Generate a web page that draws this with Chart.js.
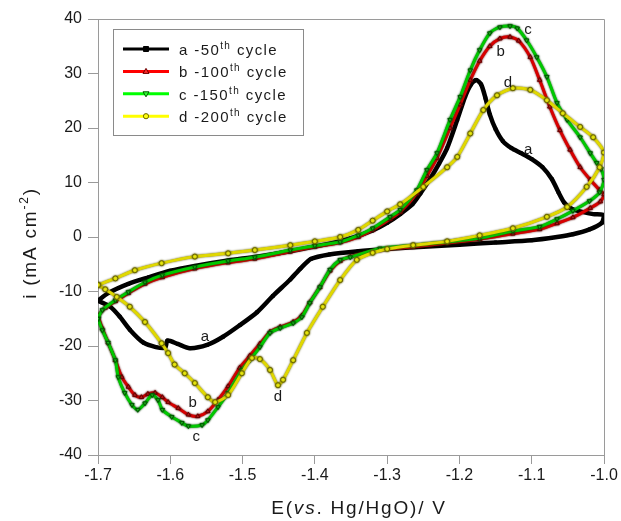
<!DOCTYPE html>
<html>
<head>
<meta charset="utf-8">
<script src="https://cdn.jsdelivr.net/npm/chart.js@4.4.1/dist/chart.umd.min.js"></script>
<style>
  html, body { margin: 0; padding: 0; background: #fff; }
</style>
</head>
<body>
<canvas id="cv" width="621" height="521"></canvas>
<script>
// tick labels
const xTicks = [-1.7, -1.6, -1.5, -1.4, -1.3, -1.2, -1.1, -1.0];
const yTicks = [-40, -30, -20, -10, 0, 10, 20, 30, 40];

// series names
const seriesLetters = ['a', 'b', 'c', 'd'];
const seriesCycles = ['-50', '-100', '-150', '-200'];

// a - 50th cycle (loop: anodic sweep to the right, then back)
const aE = [-1.700, -1.686, -1.658, -1.630, -1.600, -1.566, -1.520, -1.480, -1.434, -1.390, -1.350, -1.320, -1.300,
  -1.282, -1.265, -1.254, -1.240, -1.228, -1.217, -1.203, -1.192, -1.184, -1.177, -1.170, -1.164, -1.158, -1.150,
  -1.140, -1.128, -1.115, -1.100, -1.085, -1.072, -1.063, -1.055, -1.045, -1.030, -1.015, -1.000,
  -1.003, -1.020, -1.043, -1.065, -1.100, -1.150, -1.200, -1.250, -1.300, -1.340, -1.380, -1.405,
  -1.420, -1.434, -1.458, -1.480, -1.504, -1.527, -1.549, -1.573, -1.590, -1.604, -1.607, -1.620, -1.637,
  -1.656, -1.670, -1.683, -1.700];
const aI = [-11.7, -10.3, -8.6, -7.4, -6.2, -5.3, -4.3, -3.6, -2.6, -1.5, -0.2, 1.2, 2.6,
  4.2, 6.0, 8.0, 10.8, 13.5, 16.3, 21.5, 25.8, 28.0, 28.8, 28.0, 25.5, 22.5, 19.8,
  17.6, 16.3, 15.4, 14.3, 12.8, 10.6, 8.2, 6.3, 5.2, 4.6, 4.2, 4.0,
  2.6, 1.4, 0.5, 0.0, -0.6, -1.0, -1.4, -1.8, -2.2, -2.6, -3.2, -4.0,
  -5.8, -7.8, -10.8, -13.8, -16.2, -18.3, -19.8, -20.4, -19.6, -19.0, -20.3, -20.2, -19.4,
  -17.0, -14.6, -12.8, -11.7];

// b - 100th cycle
const bE = [-1.700, -1.690, -1.676, -1.658, -1.635, -1.611, -1.566, -1.520, -1.483, -1.434, -1.400, -1.365, -1.340,
  -1.320, -1.296, -1.282, -1.259, -1.245, -1.231, -1.213, -1.199, -1.185, -1.172, -1.158, -1.144, -1.130, -1.118,
  -1.102, -1.089, -1.075, -1.061, -1.047, -1.033, -1.019, -1.006, -1.000,
  -1.005, -1.019, -1.043, -1.065, -1.089, -1.126, -1.172, -1.217, -1.264, -1.310, -1.351, -1.365, -1.379,
  -1.393, -1.407, -1.418, -1.430, -1.448, -1.462, -1.476, -1.490, -1.504, -1.520, -1.534, -1.548, -1.562,
  -1.575, -1.589, -1.603, -1.611, -1.621, -1.631, -1.640, -1.649, -1.658, -1.667, -1.676, -1.686, -1.694, -1.700];
const bI = [-14.5, -13.0, -11.8, -10.3, -8.6, -7.4, -5.8, -4.7, -4.0, -2.7, -1.8, -1.0, 0.0,
  1.3, 3.3, 4.6, 8.0, 11.2, 14.5, 20.0, 24.3, 28.8, 32.3, 35.0, 36.4, 36.7, 36.0,
  33.0, 28.8, 23.9, 19.6, 16.0, 12.8, 10.5, 8.6, 7.8,
  6.5, 5.3, 3.6, 2.5, 1.4, 0.6, -0.4, -1.1, -1.8, -2.4, -3.6, -4.4, -6.2,
  -9.2, -12.0, -14.4, -15.6, -16.5, -17.4, -19.6, -21.8, -24.0, -27.4, -29.9, -32.0, -32.9,
  -32.6, -31.4, -30.3, -29.4, -28.6, -28.8, -29.4, -29.0, -27.5, -25.7, -22.6, -19.4, -16.8, -14.5];

// c - 150th cycle
const cE = [-1.700, -1.694, -1.676, -1.658, -1.635, -1.611, -1.566, -1.520, -1.483, -1.434, -1.400, -1.365, -1.340,
  -1.320, -1.296, -1.282, -1.259, -1.245, -1.231, -1.213, -1.199, -1.185, -1.172, -1.158, -1.144, -1.130, -1.120,
  -1.107, -1.093, -1.079, -1.065, -1.051, -1.033, -1.019, -1.010, -1.004, -1.000,
  -1.006, -1.020, -1.043, -1.065, -1.089, -1.126, -1.172, -1.217, -1.264, -1.310, -1.351, -1.365, -1.379,
  -1.393, -1.407, -1.418, -1.430, -1.448, -1.462, -1.476, -1.490, -1.501, -1.520, -1.534, -1.548, -1.556,
  -1.575, -1.584, -1.598, -1.611, -1.617, -1.625, -1.635, -1.645, -1.653, -1.663, -1.672, -1.676, -1.686, -1.694, -1.700];
const cI = [-15.0, -13.4, -11.6, -10.1, -8.3, -7.0, -5.5, -4.4, -3.7, -2.4, -1.6, -0.9, 0.3,
  1.6, 3.7, 5.0, 8.6, 12.3, 15.4, 21.5, 25.7, 30.6, 34.3, 37.4, 38.5, 38.7, 38.3,
  36.1, 33.0, 29.4, 24.6, 21.5, 18.3, 15.4, 13.6, 12.5, 10.5,
  8.2, 6.6, 4.8, 3.3, 1.9, 1.1, -0.2, -0.9, -1.5, -2.1, -3.7, -4.2, -6.0,
  -9.2, -12.1, -14.7, -15.8, -16.7, -17.6, -20.2, -22.6, -24.4, -28.6, -31.2, -33.6, -34.5,
  -34.7, -34.1, -33.0, -31.7, -29.9, -29.0, -30.5, -31.7, -30.8, -28.6, -25.7, -22.6, -19.4, -17.1, -15.0];

// d - 200th cycle
const dE = [-1.700, -1.676, -1.649, -1.612, -1.566, -1.520, -1.483, -1.434, -1.400, -1.365, -1.340, -1.320, -1.300,
  -1.282, -1.250, -1.217, -1.203, -1.185, -1.167, -1.148, -1.126, -1.102, -1.079, -1.057, -1.033, -1.015, -1.000,
  -1.006, -1.024, -1.051, -1.079, -1.126, -1.172, -1.217, -1.264, -1.300, -1.320, -1.342, -1.365, -1.389,
  -1.411, -1.430, -1.444, -1.451, -1.462, -1.476, -1.487, -1.501, -1.520, -1.538, -1.548, -1.566, -1.580,
  -1.594, -1.603, -1.612, -1.635, -1.656, -1.674, -1.690, -1.700];
const dI = [-8.8, -7.6, -6.1, -4.8, -3.6, -3.0, -2.4, -1.5, -0.8, 0.0, 1.3, 3.0, 4.7,
  6.0, 9.2, 12.8, 14.7, 19.0, 23.3, 26.0, 27.3, 27.0, 25.1, 22.7, 20.2, 18.3, 15.5,
  12.8, 9.2, 5.5, 3.7, 1.6, 0.3, -0.8, -1.5, -2.2, -2.9, -4.2, -7.9, -12.8,
  -17.6, -22.6, -26.2, -27.2, -24.4, -22.4, -22.2, -25.0, -29.0, -30.3, -29.4, -26.8, -25.0,
  -23.4, -21.3, -19.5, -15.6, -12.8, -11.0, -9.6, -8.8];

const FONT = '"Liberation Sans", Arial, sans-serif';

function toPoints(es, is) {
  return es.map((e, k) => ({ x: e, y: is[k] }));
}

const styles = [
  { line: '#000000', fill: '#000000', edge: '#000000', halo: null, shape: 'rect', rot: 0, width: 4.5 },
  { line: '#d80000', fill: '#ff2a2a', edge: '#6a0000', halo: '#5a0000', shape: 'triangle', rot: 0, width: 3 },
  { line: '#00c800', fill: '#30ff30', edge: '#005a00', halo: '#004a00', shape: 'triangle', rot: 180, width: 3 },
  { line: '#e0d800', fill: '#ffff10', edge: '#6a6600', halo: '#5e5a00', shape: 'circle', rot: 0, width: 3 }
];
const legendLine = ['#000000', '#ff0000', '#00ff00', '#ffff00'];

const seriesData = [toPoints(aE, aI), toPoints(bE, bI), toPoints(cE, cI), toPoints(dE, dI)];

const datasets = seriesData.map((pts, k) => ({
  label: seriesLetters[k] + ' ' + seriesCycles[k] + 'th cycle',
  data: pts,
  showLine: true,
  borderColor: styles[k].line,
  borderWidth: styles[k].width,
  pointStyle: styles[k].shape,
  pointRotation: styles[k].rot,
  pointRadius: k === 0 ? 2 : 2.5,
  pointBorderWidth: 1,
  pointBackgroundColor: styles[k].fill,
  pointBorderColor: styles[k].edge,
  tension: 0.25,
  order: 3 - k
}));

// letters placed next to the curves (data coordinates)
const tags = [
  { t: 'c', x: -1.105, y: 38 }, { t: 'b', x: -1.143, y: 34 }, { t: 'd', x: -1.133, y: 28.3 },
  { t: 'a', x: -1.105, y: 16 }, { t: 'a', x: -1.552, y: -18.3 }, { t: 'b', x: -1.569, y: -30.5 },
  { t: 'c', x: -1.564, y: -36.6 }, { t: 'd', x: -1.451, y: -29.3 }
];

function drawRich(ctx, x, y, parts, size, spacing, align) {
  const fontFor = p => (p.it ? 'italic ' : '') + (p.sup ? Math.round(size * 0.65) : size) + 'px ' + FONT;
  let total = 0;
  parts.forEach(p => {
    ctx.font = fontFor(p);
    for (const ch of p.t) total += ctx.measureText(ch).width + spacing;
  });
  let cx = align === 'center' ? x - total / 2 : x;
  parts.forEach(p => {
    ctx.font = fontFor(p);
    const dy = p.sup ? -size * 0.42 : 0;
    for (const ch of p.t) {
      ctx.fillText(ch, cx, y + dy);
      cx += ctx.measureText(ch).width + spacing;
    }
  });
}

function marker(ctx, k, x, y) {
  const s = styles[k];
  ctx.fillStyle = s.fill;
  ctx.strokeStyle = s.edge;
  ctx.lineWidth = 1;
  ctx.beginPath();
  if (s.shape === 'rect') {
    ctx.rect(x - 2.5, y - 2.5, 5, 5);
  } else if (s.shape === 'circle') {
    ctx.arc(x, y, 2.6, 0, Math.PI * 2);
  } else if (s.rot === 0) {
    ctx.moveTo(x, y - 3); ctx.lineTo(x + 3, y + 2); ctx.lineTo(x - 3, y + 2); ctx.closePath();
  } else {
    ctx.moveTo(x, y + 3); ctx.lineTo(x + 3, y - 2); ctx.lineTo(x - 3, y - 2); ctx.closePath();
  }
  ctx.fill();
  ctx.stroke();
}

// thin dark halo round the coloured curves, like the marker edges of the original
const halo = {
  id: 'halo',
  beforeDatasetDraw(chart, args) {
    const s = styles[args.index];
    chart.ctx.save();
    if (s.halo) {
      chart.ctx.shadowColor = s.halo;
      chart.ctx.shadowBlur = 2;
    }
  },
  afterDatasetDraw(chart) {
    chart.ctx.restore();
  }
};

const decor = {
  id: 'decor',
  afterDraw(chart) {
    const { ctx, chartArea: a, scales: { x, y } } = chart;
    ctx.save();
    // frame (top and right)
    ctx.strokeStyle = '#9a9a9a';
    ctx.lineWidth = 1;
    ctx.beginPath();
    ctx.moveTo(a.left, a.top + 0.5);
    ctx.lineTo(a.right + 0.5, a.top + 0.5);
    ctx.lineTo(a.right + 0.5, a.bottom);
    ctx.stroke();

    ctx.fillStyle = '#1a1a1a';

    // curve letters
    ctx.font = '15px ' + FONT;
    ctx.textAlign = 'center';
    ctx.textBaseline = 'middle';
    tags.forEach(tg => {
      ctx.fillText(tg.t, x.getPixelForValue(tg.x), y.getPixelForValue(tg.y));
    });
    ctx.textAlign = 'left';
    ctx.textBaseline = 'alphabetic';

    // x title
    drawRich(ctx, (a.left + a.right) / 2 + 8, 514, [
      { t: 'E(' }, { t: 'vs', it: true }, { t: '. Hg/HgO)/ V' }
    ], 19, 1.8, 'center');

    // y title
    ctx.save();
    ctx.translate(36, (a.top + a.bottom) / 2 + 6);
    ctx.rotate(-Math.PI / 2);
    drawRich(ctx, 0, 0, [{ t: 'i (mA cm' }, { t: '-2', sup: true }, { t: ')' }], 19, 1.8, 'center');
    ctx.restore();

    // legend
    const bx = a.left + 15, by = a.top + 10, bw = 190, bh = 106;
    ctx.strokeStyle = '#8a8a8a';
    ctx.lineWidth = 1;
    ctx.strokeRect(bx + 0.5, by + 0.5, bw, bh);
    seriesLetters.forEach((ltr, k) => {
      const ry = by + 20 + k * 22.4;
      ctx.strokeStyle = legendLine[k];
      ctx.lineWidth = 3;
      ctx.beginPath();
      ctx.moveTo(bx + 10, ry);
      ctx.lineTo(bx + 56, ry);
      ctx.stroke();
      marker(ctx, k, bx + 33, ry);
      ctx.fillStyle = '#1a1a1a';
      drawRich(ctx, bx + 66, ry + 6, [
        { t: ltr + ' ' + seriesCycles[k] }, { t: 'th', sup: true }, { t: ' cycle' }
      ], 15, 1.4, 'left');
    });
    ctx.restore();
  }
};

new Chart(document.getElementById('cv'), {
  type: 'scatter',
  data: { datasets: datasets },
  options: {
    responsive: false,
    animation: false,
    layout: { padding: { top: 19, right: 17, left: 0, bottom: 0 } },
    plugins: { legend: { display: false }, tooltip: { enabled: false } },
    scales: {
      x: {
        type: 'linear',
        min: -1.7,
        max: -1.0,
        afterBuildTicks: s => { s.ticks = xTicks.map(v => ({ value: v })); },
        afterFit: s => { s.height = 66; },
        ticks: {
          callback: v => v.toFixed(1),
          font: { size: 16, family: FONT },
          color: '#1a1a1a',
          padding: 2,
          maxRotation: 0,
          autoSkip: false
        },
        grid: { drawOnChartArea: false, tickLength: 9, color: '#9a9a9a' },
        border: { color: '#9a9a9a' }
      },
      y: {
        type: 'linear',
        min: -40,
        max: 40,
        afterBuildTicks: s => { s.ticks = yTicks.map(v => ({ value: v })); },
        afterFit: s => { s.width = 98; },
        ticks: {
          font: { size: 16, family: FONT },
          color: '#1a1a1a',
          padding: 6,
          autoSkip: false
        },
        grid: { drawOnChartArea: false, tickLength: 10, color: '#9a9a9a' },
        border: { color: '#9a9a9a' }
      }
    }
  },
  plugins: [halo, decor]
});
</script>
</body>
</html>
